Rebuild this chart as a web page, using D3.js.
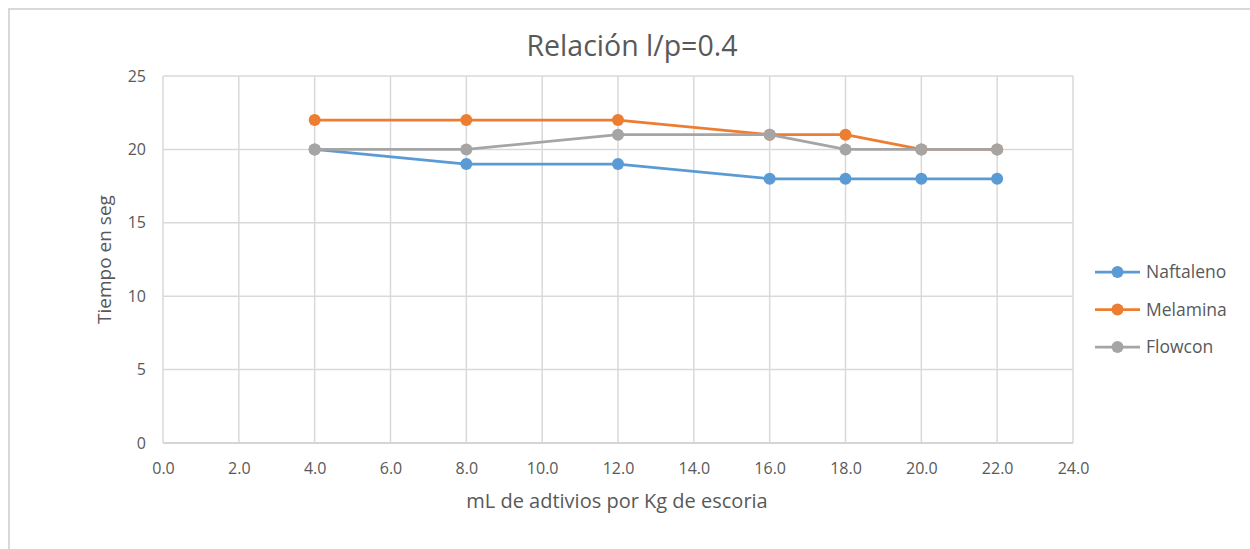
<!DOCTYPE html>
<html>
<head>
<meta charset="utf-8">
<script src="https://cdn.jsdelivr.net/npm/d3@7"></script>
<style>
  html, body { margin: 0; padding: 0; background: #fff; }
  svg { display: block; font-family: "Open Sans", "DejaVu Sans", sans-serif; }
</style>
</head>
<body>
<svg id="chart" width="1250" height="549"></svg>
<script>
// Dosage of admixture (mL per kg of slag)
const dosages = [4, 8, 12, 16, 18, 20, 22];

// Setting time in seconds for each admixture
const naftaleno = [20, 19, 19, 18, 18, 18, 18];
const melamina  = [22, 22, 22, 21, 21, 20, 20];
const flowcon   = [20, 20, 21, 21, 20, 20, 20];

const seriesNames  = ["Naftaleno", "Melamina", "Flowcon"];
const seriesColors = ["#5B9BD5", "#ED7D31", "#A5A5A5"];

const xTicks = [0, 2, 4, 6, 8, 10, 12, 14, 16, 18, 20, 22, 24];
const yTicks = [0, 5, 10, 15, 20, 25];

const series = [naftaleno, melamina, flowcon].map((vals, i) => ({
  name: seriesNames[i],
  color: seriesColors[i],
  points: dosages.map((d, j) => ({ x: d, y: vals[j] }))
}));

const svg = d3.select("#chart");
const plot = { left: 163, right: 1073, top: 76, bottom: 443 };

const x = d3.scaleLinear().domain([0, 24]).range([plot.left, plot.right]);
const y = d3.scaleLinear().domain([0, 25]).range([plot.bottom, plot.top]);

// Chart frame
svg.append("path")
  .attr("d", "M9,549 L9,9 L1250,9")
  .attr("fill", "none")
  .attr("stroke", "#d9d9d9")
  .attr("stroke-width", 2);

// Gridlines
const grid = svg.append("g");
grid.selectAll("line.v").data(xTicks).join("line")
  .attr("class", "v")
  .attr("x1", d => x(d)).attr("x2", d => x(d))
  .attr("y1", plot.top).attr("y2", plot.bottom)
  .attr("stroke", "#d9d9d9").attr("stroke-width", 1.5);
grid.selectAll("line.h").data(yTicks).join("line")
  .attr("class", "h")
  .attr("x1", plot.left).attr("x2", plot.right)
  .attr("y1", d => y(d)).attr("y2", d => y(d))
  .attr("stroke", "#d9d9d9").attr("stroke-width", 1.5);

// Axes (labels only; lines come from the grid)
const xAxis = svg.append("g")
  .attr("transform", `translate(0,${plot.bottom})`)
  .call(d3.axisBottom(x).tickValues(xTicks).tickFormat(d3.format(".1f")).tickSize(0).tickPadding(20));
const yAxis = svg.append("g")
  .attr("transform", `translate(${plot.left},0)`)
  .call(d3.axisLeft(y).tickValues(yTicks).tickSize(0).tickPadding(17));
[xAxis, yAxis].forEach(a => {
  a.select(".domain").remove();
  a.selectAll("text")
    .attr("fill", "#595959")
    .style("font-size", "16px")
    .style("font-family", "'Open Sans', sans-serif");
});
svg.append("line")
  .attr("x1", plot.left).attr("x2", plot.right)
  .attr("y1", plot.bottom).attr("y2", plot.bottom)
  .attr("stroke", "#d0d0d0").attr("stroke-width", 1.5);

// Title and axis titles
svg.append("text")
  .attr("x", 632).attr("y", 56)
  .attr("text-anchor", "middle")
  .attr("fill", "#595959")
  .style("font-size", "28.5px")
  .text("Relación l/p=0.4");

svg.append("text")
  .attr("x", 617).attr("y", 508)
  .attr("text-anchor", "middle")
  .attr("fill", "#595959")
  .style("font-size", "20px")
  .text("mL de adtivios por Kg de escoria");

svg.append("text")
  .attr("transform", `translate(111,${(plot.top + plot.bottom) / 2}) rotate(-90)`)
  .attr("text-anchor", "middle")
  .attr("fill", "#595959")
  .style("font-size", "19px")
  .text("Tiempo en seg");

// Series lines and markers
const line = d3.line().x(d => x(d.x)).y(d => y(d.y));
const sg = svg.append("g").selectAll("g").data(series).join("g");
sg.append("path")
  .attr("d", d => line(d.points))
  .attr("fill", "none")
  .attr("stroke", d => d.color)
  .attr("stroke-width", 2.75)
  .attr("stroke-linejoin", "round");
sg.selectAll("circle").data(d => d.points.map(p => ({ ...p, color: d.color }))).join("circle")
  .attr("cx", d => x(d.x)).attr("cy", d => y(d.y))
  .attr("r", 6)
  .attr("fill", d => d.color);

// Legend
const legend = svg.append("g").attr("transform", "translate(1095,272)");
const li = legend.selectAll("g").data(series).join("g")
  .attr("transform", (d, i) => `translate(0,${i * 37.5})`);
li.append("line")
  .attr("x1", 0).attr("x2", 45)
  .attr("stroke", d => d.color).attr("stroke-width", 2.75);
li.append("circle")
  .attr("cx", 22.5).attr("r", 6)
  .attr("fill", d => d.color);
li.append("text")
  .attr("x", 51).attr("dy", "0.35em")
  .attr("fill", "#595959")
  .style("font-size", "17.5px")
  .text(d => d.name);
</script>
</body>
</html>
